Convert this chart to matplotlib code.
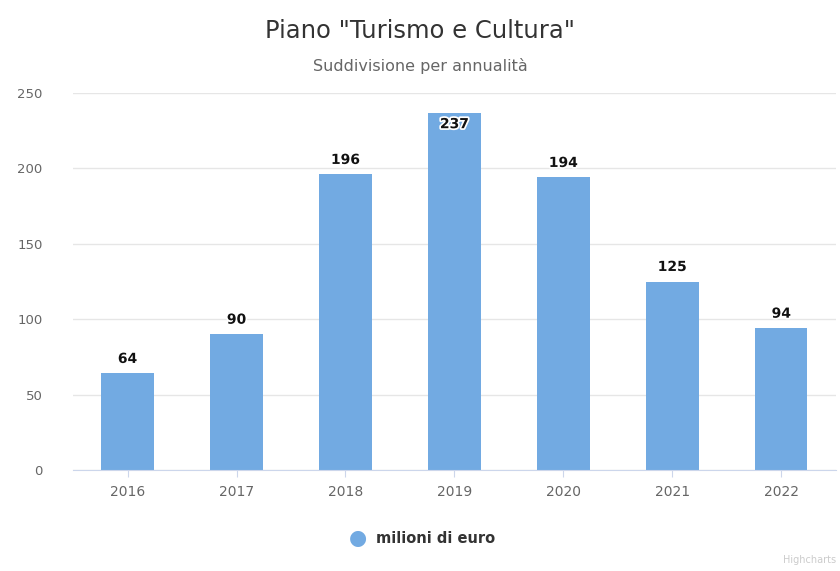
import numpy as np
import matplotlib.pyplot as plt
import matplotlib.patheffects as pe

# annual split of the plan, in millions of euro
years = ['2016', '2017', '2018', '2019', '2020', '2021', '2022']
values = [64, 90, 196, 237, 194, 125, 94]
y_ticks = [0, 50, 100, 150, 200, 250]

bar_color = '#72aae2'
y_max = 250

fig = plt.figure(figsize=(8.4, 5.71), dpi=100)
ax = fig.add_axes([0.087, 0.177, 0.908, 0.66])

x = np.arange(len(years))
ax.bar(x, values, width=0.48, color=bar_color, zorder=2)

for xi, v in zip(x, values):
    # labels that would run past the top of the plot go inside the bar
    if v + 20 > y_max:
        ypos, va = v - 3, 'top'
    else:
        ypos, va = v + 5, 'bottom'
    ax.text(xi, ypos, str(v), ha='center', va=va, fontsize=10,
            fontweight='bold', color='#111111', zorder=3,
            path_effects=[pe.withStroke(linewidth=2.5, foreground='white')])

ax.set_xlim(-0.5, len(years) - 0.5)
ax.set_ylim(0, y_max)
ax.set_yticks(y_ticks)
ax.set_xticks(x)
ax.set_xticklabels(years)
ax.grid(axis='y', color='#e6e6e6', linewidth=1, zorder=0)
for s in ['top', 'right', 'left']:
    ax.spines[s].set_visible(False)
ax.spines['bottom'].set_color('#ccd6eb')
ax.tick_params(axis='y', length=0, pad=22, labelsize=9.5, labelcolor='#666666')
ax.tick_params(axis='x', length=5, color='#ccd6eb', pad=6, labelsize=10,
               labelcolor='#666666')

fig.text(0.5, 0.945, 'Piano "Turismo e Cultura"', ha='center', va='center',
         fontsize=17.5, color='#333333')
fig.text(0.5, 0.885, 'Suddivisione per annualità', ha='center', va='center',
         fontsize=11.5, color='#666666')

# legend
fig.text(0.426, 0.057, '\u25CF', ha='center', va='center', fontsize=15,
         color=bar_color)
fig.text(0.448, 0.057, 'milioni di euro', ha='left', va='center',
         fontsize=10.5, fontweight='bold', color='#333333')

fig.text(0.995, 0.01, 'Highcharts', ha='right', va='bottom', fontsize=7,
         color='#cccccc')

fig.savefig('out.png', dpi=100)
